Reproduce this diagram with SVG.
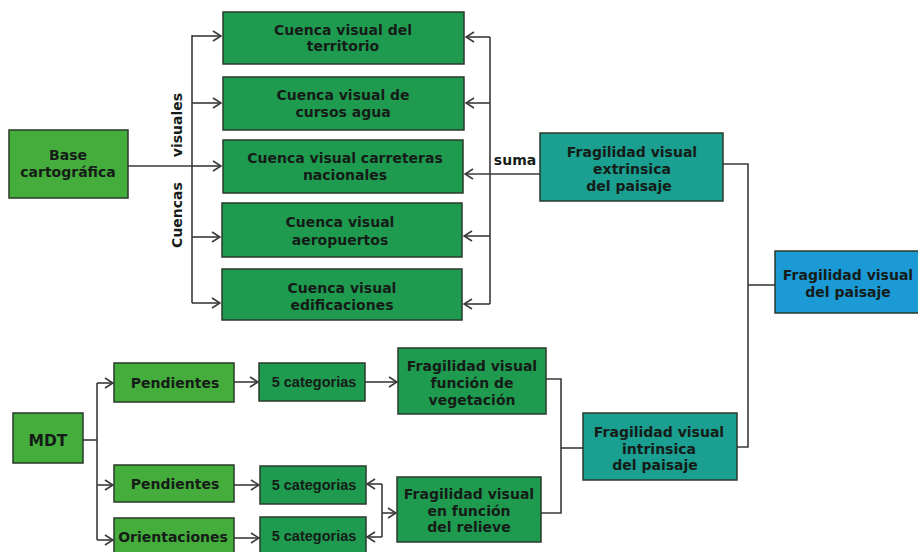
<svg xmlns="http://www.w3.org/2000/svg" width="918" height="552" viewBox="0 0 918 552">
<style>
  .lg { fill: #45ad3c; stroke: #2a3a2a; stroke-width: 1.5; }
  .dg { fill: #1f9b4f; stroke: #2a3a2a; stroke-width: 1.5; }
  .tl { fill: #1a9f90; stroke: #2a3a2a; stroke-width: 1.5; }
  .bl { fill: #1b9ad6; stroke: #2a3a2a; stroke-width: 1.5; }
  text { font-family: "DejaVu Sans", Verdana, sans-serif; font-weight: bold; font-size: 14px; fill: #151c18; text-anchor: middle; }
  .big { font-size: 15.5px; }
  .cat { font-family: "Liberation Sans", Arial, sans-serif; font-size: 14.5px; }
  .ln { fill: none; stroke: #3a3a3a; stroke-width: 1.6; }
  .ar { fill: none; stroke: #3a3a3a; stroke-width: 1.6; marker-end: url(#arr); }
</style>
<defs>
  <marker id="arr" viewBox="0 0 10 12" refX="9" refY="6" markerWidth="10" markerHeight="12" markerUnits="userSpaceOnUse" orient="auto">
    <path d="M1,1 L9,6 L1,11" fill="none" stroke="#3a3a3a" stroke-width="1.6"/>
  </marker>
</defs>
<rect width="918" height="552" fill="#ffffff"/>

<g id="connectors">
  <path class="ln" d="M128,166 H192"/>
  <path class="ln" d="M192,35 V303"/>
  <path class="ar" d="M192,36 H221"/>
  <path class="ar" d="M192,103 H221"/>
  <path class="ar" d="M192,166 H221"/>
  <path class="ar" d="M192,237 H220"/>
  <path class="ar" d="M192,303 H220"/>
  <path class="ln" d="M490,37 V304"/>
  <path class="ar" d="M490,37 H466"/>
  <path class="ar" d="M490,103 H466"/>
  <path class="ar" d="M540,174 H465"/>
  <path class="ar" d="M490,236 H464"/>
  <path class="ar" d="M490,304 H464"/>
  <path class="ln" d="M723,164 H748 V447 H737"/>
  <path class="ln" d="M748,285 H775"/>
  <path class="ln" d="M83,440 H97"/>
  <path class="ln" d="M97,383 V540"/>
  <path class="ar" d="M97,383 H113"/>
  <path class="ar" d="M97,485 H113"/>
  <path class="ar" d="M97,540 H113"/>
  <path class="ar" d="M234,382 H258"/>
  <path class="ar" d="M234,485 H259"/>
  <path class="ar" d="M234,538 H259"/>
  <path class="ar" d="M365,382 H397"/>
  <path class="ln" d="M382,484 V537"/>
  <path class="ar" d="M382,484 H367"/>
  <path class="ar" d="M382,537 H367"/>
  <path class="ar" d="M382,513 H396"/>
  <path class="ln" d="M546,379 H561 V513 H541"/>
  <path class="ln" d="M561,448 H583"/>
</g>

<g id="n-base">
  <rect class="lg" x="9" y="130" width="119" height="68"/>
  <text x="68" y="160">Base</text>
  <text x="68" y="177">cartográfica</text>
</g>

<g id="n-cuencas-label">
  <text transform="translate(182,125) rotate(-90)">visuales</text>
  <text transform="translate(182,215) rotate(-90)">Cuencas</text>
</g>

<g id="n-c1">
  <rect class="dg" x="223" y="12" width="241" height="52"/>
  <text x="343" y="35">Cuenca visual del</text>
  <text x="343" y="51">territorio</text>
</g>
<g id="n-c2">
  <rect class="dg" x="223" y="77" width="241" height="53"/>
  <text x="343" y="100">Cuenca visual de</text>
  <text x="343" y="117">cursos agua</text>
</g>
<g id="n-c3">
  <rect class="dg" x="223" y="140" width="240" height="53"/>
  <text x="345" y="163">Cuenca visual carreteras</text>
  <text x="345" y="180">nacionales</text>
</g>
<g id="n-c4">
  <rect class="dg" x="222" y="203" width="240" height="54"/>
  <text x="340" y="227">Cuenca visual</text>
  <text x="340" y="245">aeropuertos</text>
</g>
<g id="n-c5">
  <rect class="dg" x="222" y="269" width="240" height="51"/>
  <text x="342" y="293">Cuenca visual</text>
  <text x="342" y="310">edificaciones</text>
</g>

<g id="n-suma">
  <text x="515" y="165">suma</text>
</g>

<g id="n-extrinseca">
  <rect class="tl" x="540" y="133" width="183" height="68"/>
  <text x="632" y="157">Fragilidad visual</text>
  <text x="632" y="174">extrinsica</text>
  <text x="629" y="191">del paisaje</text>
</g>

<g id="n-total">
  <rect class="bl" x="775" y="251" width="146" height="62"/>
  <text x="848" y="280">Fragilidad visual</text>
  <text x="848" y="297">del paisaje</text>
</g>

<g id="n-intrinseca">
  <rect class="tl" x="583" y="413" width="154" height="67"/>
  <text x="659" y="437">Fragilidad visual</text>
  <text x="659" y="454">intrinsica</text>
  <text x="655" y="470">del paisaje</text>
</g>

<g id="n-mdt">
  <rect class="lg" x="13" y="413" width="70" height="50"/>
  <text class="big" x="48" y="446">MDT</text>
</g>

<g id="n-pend1">
  <rect class="lg" x="114" y="363" width="120" height="39"/>
  <text x="175" y="388">Pendientes</text>
</g>
<g id="n-pend2">
  <rect class="lg" x="114" y="465" width="120" height="37"/>
  <text x="175" y="489">Pendientes</text>
</g>
<g id="n-orient">
  <rect class="lg" x="114" y="518" width="120" height="36"/>
  <text x="173" y="542">Orientaciones</text>
</g>

<g id="n-cat1">
  <rect class="dg" x="259" y="363" width="106" height="38"/>
  <text class="cat" x="314" y="387">5 categorias</text>
</g>
<g id="n-cat2">
  <rect class="dg" x="260" y="466" width="106" height="38"/>
  <text class="cat" x="314" y="490">5 categorias</text>
</g>
<g id="n-cat3">
  <rect class="dg" x="260" y="517" width="106" height="37"/>
  <text class="cat" x="314" y="541">5 categorias</text>
</g>

<g id="n-vegetacion">
  <rect class="dg" x="398" y="348" width="148" height="66"/>
  <text x="472" y="371">Fragilidad visual</text>
  <text x="472" y="388">función de</text>
  <text x="472" y="405">vegetación</text>
</g>

<g id="n-relieve">
  <rect class="dg" x="397" y="477" width="144" height="65"/>
  <text x="469" y="499">Fragilidad visual</text>
  <text x="469" y="516">en función</text>
  <text x="469" y="532">del relieve</text>
</g>
</svg>
